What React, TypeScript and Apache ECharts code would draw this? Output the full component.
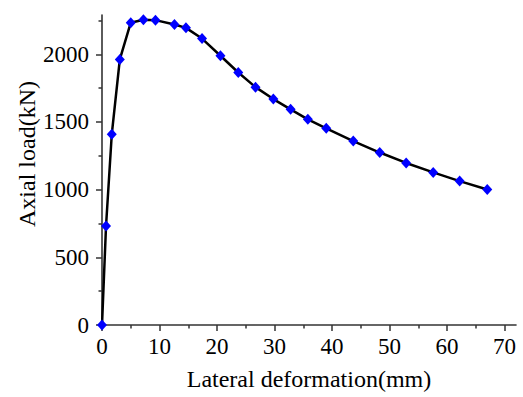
import React, { useEffect, useRef } from "react";
import * as echarts from "echarts";

const deformation = [0, 0.7, 1.7, 3.1, 5.0, 7.2, 9.3, 12.6, 14.6, 17.4, 20.6, 23.7, 26.7, 29.8, 32.8, 35.8, 39.0, 43.7, 48.3, 52.9, 57.6, 62.2, 67.0];
const axialLoad = [0, 731, 1409, 1962, 2233, 2255, 2252, 2220, 2195, 2116, 1989, 1865, 1757, 1669, 1593, 1519, 1453, 1359, 1274, 1197, 1127, 1063, 1001];

const xMajorTicks = [0, 10, 20, 30, 40, 50, 60, 70];
const xMinorTicks = [5, 15, 25, 35, 45, 55, 65];
const yMajorTicks = [0, 500, 1000, 1500, 2000];
const yMinorTicks = [250, 750, 1250, 1750, 2250];

const X_MAX = 72;
const Y_MAX = 2290;

export default function App() {
  const ref = useRef<HTMLDivElement>(null);
  useEffect(() => {
    document.body.style.margin = "0";
    const chart = echarts.init(ref.current!, null, { renderer: "svg" });
    const font = "Liberation Serif";
    const axisColor = "#333";
    const fmt = (v: number) => String(v);
    const labelStyle = { fontFamily: font, fontSize: 23, color: "#000", fontWeight: "normal" };
    const baseX = {
      type: "value",
      min: 0,
      max: X_MAX,
      splitLine: { show: false },
    };
    const baseY = {
      type: "value",
      min: 0,
      max: Y_MAX,
      splitLine: { show: false },
    };
    chart.setOption({
      animation: false,
      backgroundColor: "#ffffff",
      textStyle: { fontFamily: font },
      grid: { left: 102, top: 15, right: 7, bottom: 72, containLabel: false, outerBoundsMode: "none" },
      graphic: [
        {
          type: "text",
          x: 27,
          y: 154,
          rotation: Math.PI / 2,
          style: {
            text: "Axial load(kN)",
            fontFamily: font,
            fontSize: 24,
            fill: "#000",
            align: "center",
            verticalAlign: "middle",
          },
        },
      ],
      xAxis: [
        {
          ...baseX,
          interval: 10,
          name: "Lateral deformation(mm)",
          nameLocation: "middle",
          nameGap: 42,
          nameTextStyle: { fontFamily: font, fontSize: 24, color: "#000" },
          axisLine: { show: true, lineStyle: { color: axisColor, width: 1.6 } },
          axisTick: { show: true, customValues: xMajorTicks, length: 6, lineStyle: { color: axisColor, width: 1.5 } },
          axisLabel: { ...labelStyle, formatter: fmt, margin: 10, showMaxLabel: false },
        },
        {
          ...baseX,
          position: "bottom",
          axisLine: { show: false },
          axisTick: { show: true, customValues: xMinorTicks, length: 3.5, lineStyle: { color: axisColor, width: 1.5 } },
          axisLabel: { show: false },
        },
      ],
      yAxis: [
        {
          ...baseY,
          interval: 500,
          axisLine: { show: true, lineStyle: { color: axisColor, width: 1.6 } },
          axisTick: { show: true, customValues: yMajorTicks, length: 6, lineStyle: { color: axisColor, width: 1.5 } },
          axisLabel: { ...labelStyle, formatter: fmt, margin: 13, showMaxLabel: false },
        },
        {
          ...baseY,
          position: "left",
          axisLine: { show: false },
          axisTick: { show: true, customValues: yMinorTicks, length: 3.5, lineStyle: { color: axisColor, width: 1.5 } },
          axisLabel: { show: false },
        },
      ],
      series: [
        {
          type: "line",
          xAxisIndex: 0,
          yAxisIndex: 0,
          data: deformation.map((x, i) => [x, axialLoad[i]]),
          lineStyle: { color: "#000", width: 2.5 },
          symbol: "diamond",
          symbolSize: [10, 11],
          itemStyle: { color: "#0000ff" },
          showAllSymbol: true,
        },
      ],
    });
    return () => chart.dispose();
  }, []);
  return <div ref={ref} style={{ width: 523, height: 397 }} />;
}
